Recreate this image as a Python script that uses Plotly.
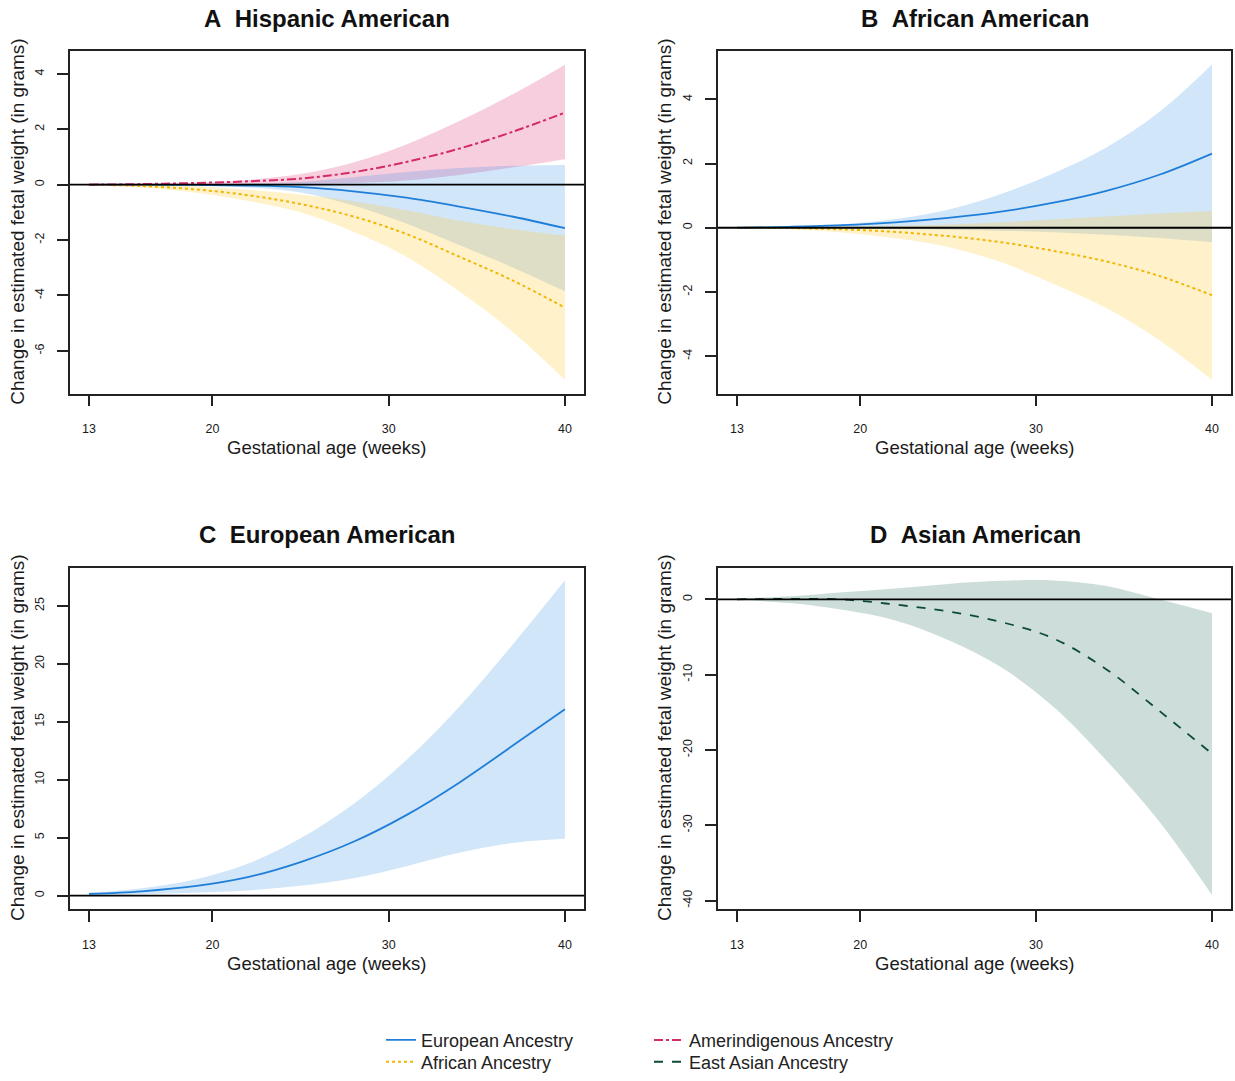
import plotly.graph_objects as go

# ---------------- data ----------------
weeks = [13, 16, 19, 22, 25, 28, 31, 34, 37, 40]

# Panel A - Hispanic American
a_eur_mean = [0, 0, -0.01, -0.03, -0.09, -0.24, -0.47, -0.79, -1.15, -1.57]
a_eur_up = [0, 0, 0.01, 0.04, 0.10, 0.27, 0.46, 0.60, 0.68, 0.71]
a_eur_lo = [0, 0, -0.03, -0.10, -0.28, -0.75, -1.40, -2.18, -2.98, -3.85]
a_afr_mean = [0, -0.05, -0.17, -0.38, -0.70, -1.15, -1.78, -2.60, -3.45, -4.44]
a_afr_up = [0, 0, -0.06, -0.18, -0.36, -0.60, -0.92, -1.30, -1.60, -1.84]
a_afr_lo = [0, -0.10, -0.28, -0.58, -1.00, -1.70, -2.60, -3.85, -5.30, -7.04]
a_ame_mean = [0, 0.02, 0.06, 0.12, 0.22, 0.45, 0.82, 1.30, 1.90, 2.60]
a_ame_up = [0, 0.02, 0.06, 0.17, 0.38, 0.80, 1.45, 2.30, 3.25, 4.33]
a_ame_lo = [0, 0, 0, 0.02, 0.04, 0.06, 0.15, 0.35, 0.62, 0.92]

# Panel B - African American
b_eur_mean = [0, 0.03, 0.08, 0.17, 0.31, 0.50, 0.78, 1.15, 1.65, 2.31]
b_eur_up = [0.02, 0.05, 0.11, 0.27, 0.56, 1.05, 1.70, 2.50, 3.60, 5.08]
b_eur_lo = [0, -0.01, -0.02, -0.04, -0.06, -0.09, -0.14, -0.22, -0.32, -0.45]
b_afr_mean = [0, -0.01, -0.05, -0.13, -0.26, -0.45, -0.72, -1.05, -1.50, -2.10]
b_afr_up = [0, 0.01, 0.03, 0.06, 0.10, 0.17, 0.26, 0.35, 0.44, 0.52]
b_afr_lo = [0, -0.04, -0.15, -0.33, -0.60, -1.07, -1.75, -2.50, -3.50, -4.73]

# Panel C - European American
c_eur_mean = [0.15, 0.38, 0.82, 1.60, 2.90, 4.65, 6.95, 9.75, 12.90, 16.07]
c_eur_up = [0.25, 0.65, 1.40, 2.75, 4.95, 7.90, 11.70, 16.30, 21.60, 27.20]
c_eur_lo = [0.05, 0.12, 0.25, 0.45, 0.85, 1.50, 2.55, 3.70, 4.55, 4.92]

# Panel D - Asian American
d_eas_mean = [0, 0.05, -0.02, -0.70, -1.60, -3.00, -5.20, -9.30, -14.80, -20.50]
d_eas_up = [0.10, 0.40, 0.95, 1.45, 2.05, 2.45, 2.50, 1.77, 0.00, -1.85]
d_eas_lo = [-0.10, -0.50, -1.40, -2.80, -5.40, -9.00, -14.30, -21.40, -29.50, -39.25]

x_tickvals = [13, 20, 30, 40]
x_ticktext = ["13", "20", "30", "40"]
a_yticks = [-6, -4, -2, 0, 2, 4]
b_yticks = [-4, -2, 0, 2, 4]
c_yticks = [0, 5, 10, 15, 20, 25]
d_yticks = [-40, -30, -20, -10, 0]

titles = ["A\u00a0\u00a0Hispanic American", "B\u00a0\u00a0African American",
          "C\u00a0\u00a0European American", "D\u00a0\u00a0Asian American"]
names = {"eur": "European Ancestry", "afr": "African Ancestry",
         "ame": "Amerindigenous Ancestry", "eas": "East Asian Ancestry"}

# ---------------- styles ----------------
W, H = 1235, 1081
FONT = "Liberation Sans, Arial, Helvetica, sans-serif"
TXT = "#1a1a1a"
line_col = {"eur": "#1f7fd8", "afr": "#f2b705", "ame": "#d42a6a", "eas": "#0c4a3a"}
line_dash = {"eur": "solid", "afr": "dot", "ame": "dashdot", "eas": "dash"}
line_w = {"eur": 1.8, "afr": 2.0, "ame": 2.0, "eas": 1.8}
fill_col = {"eur": "rgba(30,130,230,0.20)", "afr": "rgba(255,200,40,0.25)",
            "ame": "rgba(225,60,120,0.25)", "eas": "rgba(70,130,120,0.27)"}
legend_of = {"eur": "legend", "afr": "legend2", "ame": "legend3", "eas": "legend4"}

fig = go.Figure()


def add_band(k, lo, up, ax):
    fig.add_trace(go.Scatter(x=weeks, y=lo, mode="lines", line=dict(width=0, shape="spline"),
                             showlegend=False, hoverinfo="skip", xaxis="x" + ax, yaxis="y" + ax))
    fig.add_trace(go.Scatter(x=weeks, y=up, mode="lines", line=dict(width=0, shape="spline"),
                             fill="tonexty", fillcolor=fill_col[k], showlegend=False,
                             hoverinfo="skip", xaxis="x" + ax, yaxis="y" + ax))


def add_line(k, y, ax, show=False):
    fig.add_trace(go.Scatter(x=weeks, y=y, mode="lines", name=names[k],
                             line=dict(color=line_col[k], dash=line_dash[k], width=line_w[k], shape="spline"),
                             showlegend=show, legend=legend_of[k],
                             xaxis="x" + ax, yaxis="y" + ax))


# Panel A
add_band("ame", a_ame_lo, a_ame_up, "")
add_band("eur", a_eur_lo, a_eur_up, "")
add_band("afr", a_afr_lo, a_afr_up, "")
add_line("eur", a_eur_mean, "", True)
add_line("afr", a_afr_mean, "", True)
add_line("ame", a_ame_mean, "", True)
# Panel B
add_band("eur", b_eur_lo, b_eur_up, "2")
add_band("afr", b_afr_lo, b_afr_up, "2")
add_line("eur", b_eur_mean, "2")
add_line("afr", b_afr_mean, "2")
# Panel C
add_band("eur", c_eur_lo, c_eur_up, "3")
add_line("eur", c_eur_mean, "3")
# Panel D
add_band("eas", d_eas_lo, d_eas_up, "4")
add_line("eas", d_eas_mean, "4", True)


# ---------------- layout ----------------
def px_x(p):
    return p / W


def px_y(p):
    return 1 - p / H


left_dom = [px_x(70), px_x(584)]
right_dom = [px_x(718), px_x(1231)]
top_dom = [px_y(395.7), px_y(51.7)]
bot_dom = [px_y(914), px_y(570.7)]

tickfont = dict(family=FONT, size=12.5, color=TXT)


def xax(dom, anchor):
    return dict(domain=dom, anchor=anchor, range=[11.92, 41.08], showline=True, mirror=True,
                linecolor="#222", linewidth=1.6, ticks="outside", ticklen=11, tickwidth=1.6,
                tickcolor="#222", tickvals=x_tickvals, ticktext=x_ticktext, tickfont=tickfont,
                showgrid=False, zeroline=False, ticklabelstandoff=12)


def yax(dom, anchor, rng, tv):
    return dict(domain=dom, anchor=anchor, range=rng, showline=True, mirror=True,
                linecolor="#222", linewidth=1.6, ticks="outside", ticklen=11, tickwidth=1.6,
                tickcolor="#222", tickvals=tv, ticktext=[str(v) for v in tv], tickangle=-90,
                tickfont=tickfont, showgrid=False, zeroline=False, ticklabelstandoff=8)


def leg(xp, yp):
    return dict(x=px_x(xp), y=px_y(yp), xanchor="left", yanchor="middle",
                font=dict(family=FONT, size=18, color="#222"), bgcolor="rgba(0,0,0,0)",
                traceorder="normal")


layout = dict(
    width=W, height=H, margin=dict(l=0, r=0, t=0, b=0),
    paper_bgcolor="white", plot_bgcolor="white",
    font=dict(family=FONT, color=TXT),
    xaxis=xax(left_dom, "y"), yaxis=yax(top_dom, "x", [-7.54, 4.81], a_yticks),
    xaxis2=xax(right_dom, "y2"), yaxis2=yax(top_dom, "x2", [-5.16, 5.49], b_yticks),
    xaxis3=xax(left_dom, "y3"), yaxis3=yax(bot_dom, "x3", [-1.14, 28.3], c_yticks),
    xaxis4=xax(right_dom, "y4"), yaxis4=yax(bot_dom, "x4", [-41.1, 4.22], d_yticks),
    legend=leg(381, 1046), legend2=leg(381, 1068),
    legend3=leg(649, 1046), legend4=leg(649, 1068),
    showlegend=True,
)
fig.update_layout(**layout)

# zero lines
for ax in ["", "2", "3", "4"]:
    fig.add_shape(type="line", xref=("x" + ax) + " domain", yref="y" + ax, x0=0, x1=1, y0=0, y1=0,
                  line=dict(color="black", width=1.8), layer="above")

# titles and axis titles
centers_x = [327, 975, 327, 975]
title_y = [19, 19, 537, 537]
xtitle_y = [450, 450, 969, 969]
ytitle_x = [18, 665, 18, 665]
ytitle_y = [223, 223, 742, 742]
for i in range(4):
    fig.add_annotation(text="<b>" + titles[i] + "</b>", x=px_x(centers_x[i]), y=px_y(title_y[i]),
                       xref="paper", yref="paper", xanchor="center", yanchor="middle", showarrow=False,
                       font=dict(family=FONT, size=24, color="#111"))
    fig.add_annotation(text="Gestational age (weeks)", x=px_x(centers_x[i]), y=px_y(xtitle_y[i]),
                       xref="paper", yref="paper", xanchor="center", yanchor="middle", showarrow=False,
                       font=dict(family=FONT, size=18.5, color=TXT))
    fig.add_annotation(text="Change in estimated fetal weight (in grams)", x=px_x(ytitle_x[i]),
                       y=px_y(ytitle_y[i]), xref="paper", yref="paper", xanchor="center",
                       yanchor="middle", showarrow=False, textangle=-90,
                       font=dict(family=FONT, size=19, color=TXT))

fig.write_html("out.html", config={"displayModeBar": False},
               post_script="document.body.style.margin='0';")
